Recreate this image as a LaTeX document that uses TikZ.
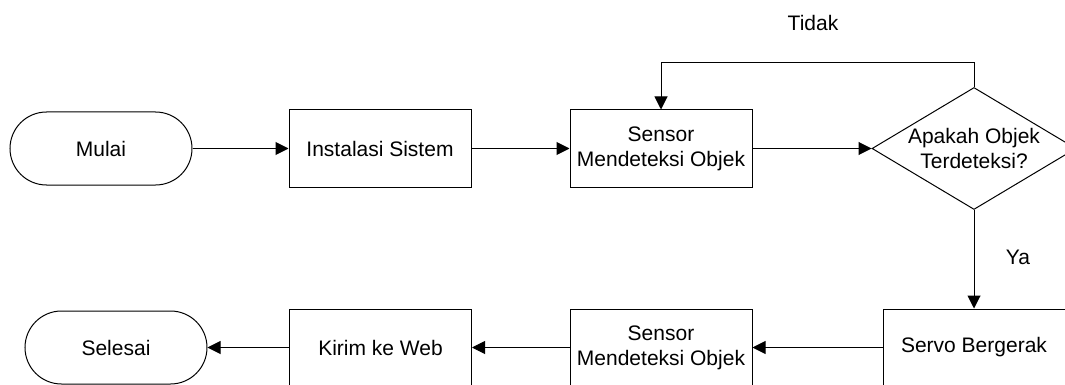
\documentclass[tikz,border=0pt]{standalone}
\usepackage{fontspec}
\setmainfont{Liberation Sans}
\usetikzlibrary{arrows.meta,shapes.misc,shapes.geometric}
\begin{document}
\begin{tikzpicture}[x=0.5pt,y=-0.5pt,
  every node/.style={font=\fontsize{10.5}{12.5}\selectfont},
  procbox/.style={draw,line width=0.5pt,rectangle,minimum width=91pt,minimum height=38.5pt,inner sep=0pt,align=center},
  termbox/.style={draw,line width=0.5pt,rounded rectangle,minimum width=91pt,minimum height=36.5pt,inner sep=0pt},
  decbox/.style={draw,line width=0.5pt,diamond,minimum width=102pt,minimum height=61pt,inner sep=0pt,align=center},
  arr/.style={line width=0.5pt,-{Triangle[length=6.5pt,width=6.5pt]}},
  lbl/.style={inner sep=0pt}]
\useasboundingbox (0,0) rectangle (1065,385);
\node[termbox] (mulai) at (101,148.5) {Mulai};
\node[procbox] (inst) at (380,148.5) {Instalasi Sistem};
\node[procbox] (s1) at (661,148.5) {Sensor\\Mendeteksi Objek};
\node[decbox] (d) at (974,148.5) {\makebox[0pt]{Apakah Objek}\\\makebox[0pt]{Terdeteksi?}};
\node[procbox] (servo) at (974,347.5) {Servo Bergerak};
\node[procbox] (s2) at (661,347.5) {Sensor\\Mendeteksi Objek};
\node[procbox] (kirim) at (380.5,347.5) {Kirim ke Web};
\node[termbox] (selesai) at (116,347.5) {Selesai};
\coordinate (loop) at (974,63);
\node[lbl] (tidak) at (813,23) {Tidak};
\node[lbl] (ya) at (1018,257) {Ya};
\draw[arr] (mulai.east) -- (inst.west);
\draw[arr] (inst.east) -- (s1.west);
\draw[arr] (s1.east) -- (d.west);
\draw[arr] (d.north) -- (loop) -| (s1.north);
\draw[arr] (d.south) -- (servo.north);
\draw[arr] (servo.west) -- (s2.east);
\draw[arr] (s2.west) -- (kirim.east);
\draw[arr] (kirim.west) -- (selesai.east);
\end{tikzpicture}
\end{document}
